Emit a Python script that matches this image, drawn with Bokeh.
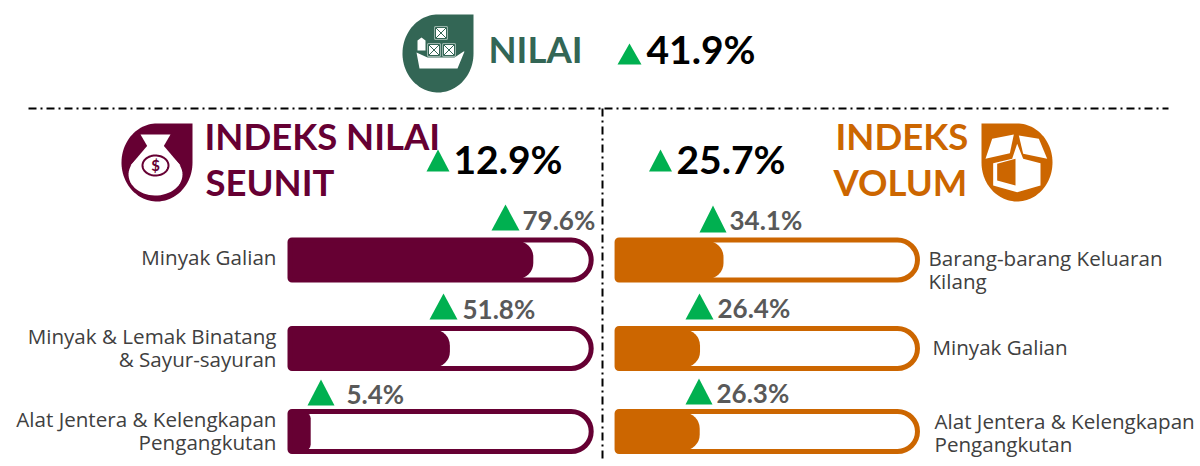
import numpy as np
from bokeh.embed import file_html
from bokeh.resources import INLINE
from bokeh.plotting import figure
from bokeh.models import Range1d
from bokeh.core.properties import value

# ---- data ----
headline_total = "41.9%"
headline_unit = "12.9%"
headline_volume = "25.7%"
unit_categories = ["Minyak Galian", "Minyak & Lemak Binatang\n& Sayur-sayuran", "Alat Jentera & Kelengkapan\nPengangkutan"]
unit_values = [79.6, 51.8, 5.4]
volume_categories = ["Barang-barang Keluaran\nKilang", "Minyak Galian", "Alat Jentera & Kelengkapan\nPengangkutan"]
volume_values = [34.1, 26.4, 26.3]

MAROON, ORANGE, GREEN = "#660033", "#CC6600", "#336655"
UP, GREY, INK, LABEL = "#00B050", "#595959", "#000000", "#404040"
FONT = value("Lato")
BODY = value("Open Sans")

W, H = 1200, 466
p = figure(width=W, height=H, output_backend="svg", toolbar_location=None,
           x_range=Range1d(0, W), y_range=Range1d(H, 0), min_border=0)
p.axis.visible = False
p.grid.visible = False
p.outline_line_color = None
p.background_fill_color = "white"
p.border_fill_color = "white"

def scale(origin, per_unit):
    return Range1d((0 - origin) / per_unit, (W - origin) / per_unit)
p.extra_x_ranges["unit"] = scale(294.0, 3.0)
p.extra_x_ranges["volume"] = scale(619.0, 3.05)

ROWS = [259.5, 348.0, 431.0]

def panel(vals, rng, color, start, track_end):
    for y, v in zip(ROWS, vals):
        r = 16 if v > 10 else 6
        p.hbar(y=[y], left=[start], right=[v], height=38, x_range_name=rng,
               fill_color=color, line_color=None, border_radius=(0, r, r, 0))
        p.hbar(y=[y], left=[start], right=[track_end], height=40, x_range_name=rng,
               fill_color=None, line_color=color, line_width=5, border_radius=(2, 20, 20, 2))

panel(unit_values, "unit", MAROON, -1.5, 98.9)
panel(volume_values, "volume", ORANGE, -0.8, 97.7)

# dividers
p.line([28, 1168], [108, 108], line_color="black", line_width=2, line_dash="8 4 2 4")
p.line([602, 602], [108, 462], line_color="black", line_width=2, line_dash="8 4 2 4")

# triangles
def tri(cx, ybase, w, h):
    p.patch([cx - w / 2, cx + w / 2, cx], [ybase, ybase, ybase - h], fill_color=UP, line_color=None)
for cx, yb, w, h in [(629, 64, 24, 21), (437.5, 171, 23, 22), (660, 171, 23, 22),
                     (505, 230, 28, 26), (443, 319, 28, 26), (320.5, 405, 27, 26),
                     (712.5, 232, 27, 27), (699, 319, 28, 26), (698.5, 404, 27, 26)]:
    tri(cx, yb, w, h)

def txt(x, y, s, size, color, font=FONT, style="bold", align="left", base="alphabetic", lh=1.0):
    if base == "alphabetic":
        y = y - 0.44 * size
    p.text([x], [y], text=[s], text_font=font, text_font_size=f"{size}px", text_color=color,
           text_font_style=style, text_align=align, text_baseline=base, text_line_height=lh)

# headings
txt(488, 65, "NILAI", 36.5, GREEN)
txt(204, 152, "INDEKS NILAI", 36.5, MAROON)
txt(205, 198, "SEUNIT", 36.5, MAROON)
txt(835, 152, "INDEKS", 36.5, ORANGE)
txt(833, 198, "VOLUM", 36.5, ORANGE)
txt(646, 66, headline_total, 39, INK)
txt(453, 176, headline_unit, 39, INK)
txt(676, 176, headline_volume, 39, INK)

# value labels
for x, y, v in zip([522, 462, 346], [231, 320, 405], unit_values):
    txt(x, y, f"{v}%", 26, GREY)
for x, y, v in zip([729, 717, 716], [231, 319, 404], volume_values):
    txt(x, y, f"{v}%", 26, GREY)

# category labels
CAT, CAT_LH = 20.6, 0.85
for y, c in zip([256, 347, 430], unit_categories):
    txt(276, y, c, CAT, LABEL, BODY, "normal", "right", "middle", CAT_LH)
for x, y, c in zip([928, 932, 934], [269, 346, 432], volume_categories):
    txt(x, y, c, CAT, LABEL, BODY, "normal", "left", "middle", CAT_LH)

# icons
def drop(x0, x1, y0, y1, corner, color):
    cx, cy, rx, ry = (x0 + x1) / 2, (y0 + y1) / 2, (x1 - x0) / 2, (y1 - y0) / 2
    if corner == "right":
        t = np.radians(np.linspace(0, 270, 80))
        xs = list(cx + rx * np.cos(t)) + [x1]
        ys = list(cy + ry * np.sin(t)) + [y0]
    else:
        t = np.radians(np.linspace(-90, 180, 80))
        xs = list(cx + rx * np.cos(t)) + [x0]
        ys = list(cy + ry * np.sin(t)) + [y0]
    p.patch(xs, ys, fill_color=color, line_color=None)

def poly(pts, color="white"):
    p.patch([a for a, _ in pts], [b for _, b in pts], fill_color=color, line_color=None)

def ell(cx, cy, rx, ry, fill="white", line=None, lw=0):
    t = np.linspace(0, 2 * np.pi, 60)
    p.patch(cx + rx * np.cos(t), cy + ry * np.sin(t), fill_color=fill, line_color=line, line_width=lw)

# ship
drop(402, 473, 14, 92, "right", GREEN)
poly([(416, 52), (427, 57), (454, 57), (463, 51), (464, 51), (457, 68), (419, 68)])
poly([(417, 50), (417, 40), (421, 37), (425, 40), (425, 50)])
for xa, ya, s in [(434, 26, 13), (427, 43, 13), (442, 43, 13)]:
    poly([(xa, ya), (xa + s, ya), (xa + s, ya + s), (xa, ya + s)])
    p.multi_line([[xa + 1, xa + s - 1], [xa + 1, xa + s - 1]], [[ya + 1, ya + s - 1], [ya + s - 1, ya + 1]],
                 line_color=GREEN, line_width=1)
    p.multi_line([[xa + 1, xa + s - 1, xa + s - 1, xa + 1, xa + 1]], [[ya + 1, ya + 1, ya + s - 1, ya + s - 1, ya + 1]],
                 line_color=GREEN, line_width=1)

# money bag
drop(121, 192, 123, 201, "right", MAROON)
poly([(140, 134), (170, 134), (163, 146), (147, 146)])
poly([(147, 145), (163, 145), (180, 165), (130, 165)])
ell(155, 174, 27, 21)
ell(155, 165, 13, 10, fill="white", line=MAROON, lw=2)
txt(155, 171, "$", 15, MAROON, align="center")

# box
drop(981, 1052, 123, 201, "left", ORANGE)
def bx(X, Y):
    return 600 + X / 3, 110 + Y / 3
poly([bx(1175, 85), bx(1240, 72), bx(1228, 128), bx(1155, 145)])
poly([bx(1255, 75), bx(1315, 85), bx(1340, 145), bx(1268, 130)])
poly([bx(1178, 158), bx(1235, 145), bx(1250, 100), bx(1268, 145), bx(1320, 158), bx(1320, 225), bx(1250, 245), bx(1178, 225)])
poly([bx(1190, 160), bx(1245, 145), bx(1245, 225), bx(1190, 210)], ORANGE)

open("out.html", "w").write(file_html(p, INLINE))
